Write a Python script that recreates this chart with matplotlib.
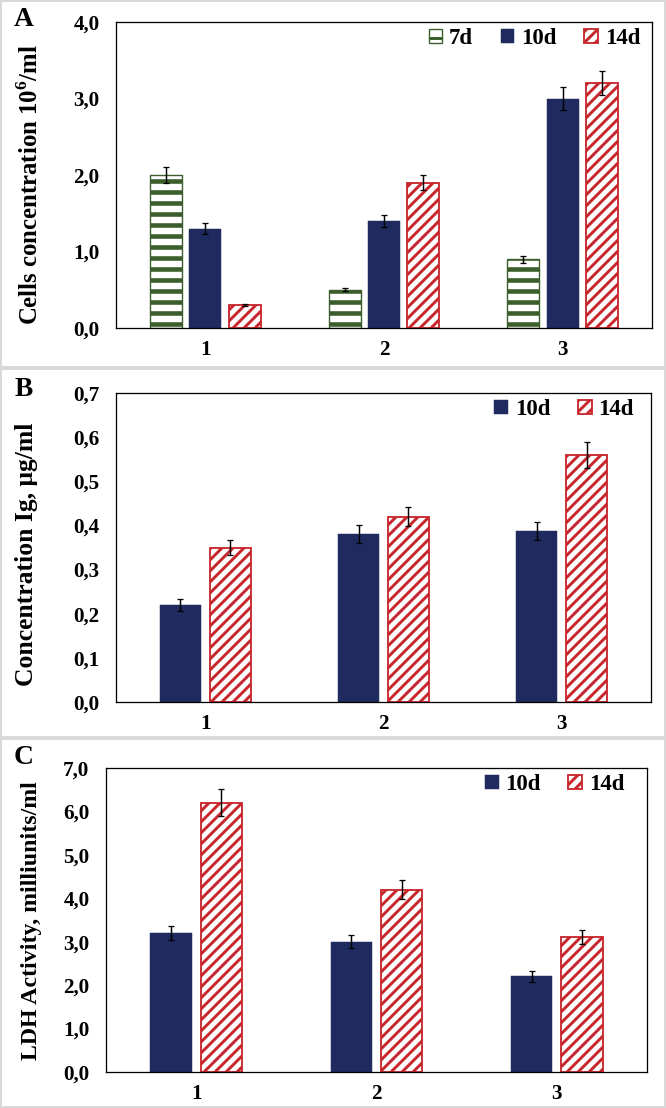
import numpy as np
import matplotlib
matplotlib.use('Agg')
import matplotlib.pyplot as plt
from matplotlib.patches import Rectangle

plt.rcParams['font.family'] = ['Liberation Serif', 'DejaVu Serif']
plt.rcParams['font.weight'] = 'bold'
plt.rcParams['mathtext.fontset'] = 'custom'
plt.rcParams['mathtext.rm'] = 'Liberation Serif'
plt.rcParams['mathtext.bf'] = 'Liberation Serif:bold'

# data
groups = ['1', '2', '3']

cells_7d = [2.0, 0.5, 0.9]
cells_7d_err = [0.10, 0.02, 0.045]
cells_10d = [1.3, 1.4, 3.0]
cells_10d_err = [0.07, 0.075, 0.15]
cells_14d = [0.3, 1.9, 3.2]
cells_14d_err = [0.01, 0.095, 0.155]

ig_10d = [0.22, 0.38, 0.388]
ig_10d_err = [0.013, 0.02, 0.02]
ig_14d = [0.35, 0.42, 0.56]
ig_14d_err = [0.018, 0.021, 0.029]

ldh_10d = [3.2, 3.0, 2.2]
ldh_10d_err = [0.17, 0.15, 0.12]
ldh_14d = [6.2, 4.2, 3.1]
ldh_14d_err = [0.31, 0.21, 0.16]

cells_ticks = [0.0, 1.0, 2.0, 3.0, 4.0]
ig_ticks = [0.0, 0.1, 0.2, 0.3, 0.4, 0.5, 0.6, 0.7]
ldh_ticks = [0.0, 1.0, 2.0, 3.0, 4.0, 5.0, 6.0, 7.0]

NAVY = '#1f2a5e'
RED = '#c8262d'
GREEN = '#3b5e2b'

DPI = 66
W, H = 666, 1108
fig = plt.figure(figsize=(W / DPI, H / DPI), dpi=DPI)

# light grey panel frames
for y0, y1 in [(1, 367), (369, 737), (739, 1107)]:
    fig.patches.append(Rectangle((1 / W, 1 - y1 / H), 664 / W, (y1 - y0) / H,
                                 transform=fig.transFigure, fill=False,
                                 edgecolor='#d9d9d9', linewidth=2.2))


def make_axes(l, r, t, b):
    return fig.add_axes([l / W, 1 - b / H, (r - l) / W, (b - t) / H])


def bar(ax, x, vals, err, width, kind, label):
    if kind == 'green':
        plt.rcParams['hatch.linewidth'] = 5.0
        b = ax.bar(x, vals, width, color='white', edgecolor=GREEN, hatch='-',
                   linewidth=1.5, label=label)
    elif kind == 'red':
        plt.rcParams['hatch.linewidth'] = 3.2
        b = ax.bar(x, vals, width, color='white', edgecolor=RED, hatch='//',
                   linewidth=2.0, label=label)
    else:
        b = ax.bar(x, vals, width, color=NAVY, edgecolor=NAVY, linewidth=0.5,
                   label=label)
    ax.errorbar(x, vals, yerr=err, fmt='none', ecolor='black',
                elinewidth=1.6, capsize=3.5, capthick=1.4)
    return b


def style(ax, ticks, ylabel, letter, lab_x, lab_y, lab_size, let_xy):
    ax.set_xlim(-0.5, 2.5)
    ax.set_ylim(ticks[0], ticks[-1])
    ax.set_yticks(ticks)
    ax.set_yticklabels(['{:.1f}'.format(t).replace('.', ',') for t in ticks])
    ax.set_xticks(np.arange(len(groups)))
    ax.set_xticklabels(groups)
    ax.tick_params(length=0, labelsize=23)
    ax.tick_params(axis='y', pad=18)
    ax.tick_params(axis='x', pad=13)
    for s in ax.spines.values():
        s.set_linewidth(1.4)
    fig.text(lab_x / W, 1 - lab_y / H, ylabel, rotation=90, ha='center',
             va='center', fontsize=lab_size, fontweight='bold')
    fig.text(let_xy[0] / W, 1 - let_xy[1] / H, letter, ha='center',
             va='center', fontsize=30, fontweight='bold')


def legend(ax, ncol, bbox):
    ax.legend(loc='upper right', ncol=ncol, frameon=False, fontsize=25,
              handlelength=0.6, handleheight=0.6, handletextpad=0.3,
              columnspacing=1.2, bbox_to_anchor=bbox, borderaxespad=0)


x = np.arange(len(groups))

# panel A
axA = make_axes(116, 652, 22, 328)
bar(axA, x - 0.22, cells_7d, cells_7d_err, 0.18, 'green', '7d')
bar(axA, x, cells_10d, cells_10d_err, 0.18, 'navy', '10d')
bar(axA, x + 0.22, cells_14d, cells_14d_err, 0.18, 'red', '14d')
style(axA, cells_ticks, r'Cells concentration 10$^{\mathbf{6}}$/ml', 'A',
      30, 185, 27, (24, 20))
legend(axA, 3, (0.995, 1.01))

# panel B
axB = make_axes(116, 651, 393, 702)
bar(axB, x - 0.14, ig_10d, ig_10d_err, 0.23, 'navy', '10d')
bar(axB, x + 0.14, ig_14d, ig_14d_err, 0.23, 'red', '14d')
style(axB, ig_ticks, 'Concentration Ig, μg/ml', 'B', 27, 554, 28, (24, 390))
legend(axB, 2, (0.985, 1.01))

# panel C
axC = make_axes(106, 647, 768, 1072)
bar(axC, x - 0.14, ldh_10d, ldh_10d_err, 0.23, 'navy', '10d')
bar(axC, x + 0.14, ldh_14d, ldh_14d_err, 0.23, 'red', '14d')
style(axC, ldh_ticks, 'LDH Activity, milliunits/ml', 'C', 32, 921, 26,
      (24, 757))
legend(axC, 2, (0.975, 1.01))

fig.savefig('out.png', dpi=DPI)
